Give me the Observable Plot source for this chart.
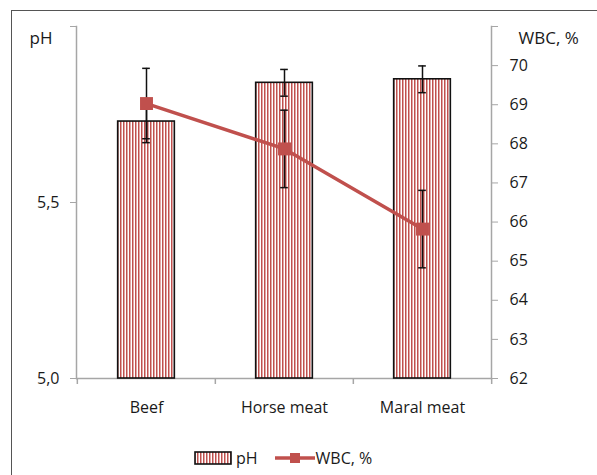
<!DOCTYPE html>
<html>
<head>
<meta charset="utf-8">
<script src="https://cdn.jsdelivr.net/npm/d3@7"></script>
<script src="https://cdn.jsdelivr.net/npm/@observablehq/plot@0.6"></script>
<style>
  html, body { margin: 0; padding: 0; background: #fff; }
  #wrap { position: relative; width: 597px; height: 475px; overflow: hidden; font-family: "Open Sans", sans-serif; color: #1a1a1a; }
  #border { position: absolute; left: 11px; top: 10px; width: 800px; height: 800px; border-left: 1.5px solid #555; border-top: 1.5px solid #555; }
  #legend { position: absolute; left: 194px; top: 447px; height: 22px; display: flex; align-items: center; font-size: 16px; }
  #legend span { line-height: 22px; }
</style>
</head>
<body>
<div id="wrap">
  <div id="border"></div>
  <div id="chart"></div>
  <div id="legend"></div>
</div>
<script>
// ---- data ----
const categories = ["Beef", "Horse meat", "Maral meat"];
const phValues = [5.73, 5.84, 5.85];
const phErrors = [0.06, 0.038, 0.038];
const wbcValues = [69.03, 67.87, 65.82];
const wbcErrors = [0.9, 0.99, 0.99];
const phTicks = [5.0, 5.5, 6.0];
const phTickLabels = ["5,0", "5,5", ""];
const wbcTicks = [62, 63, 64, 65, 66, 67, 68, 69, 70, 71];
const wbcTickLabels = ["62", "63", "64", "65", "66", "67", "68", "69", "70", ""];
const phTitle = "pH";
const wbcTitle = "WBC, %";

// ---- layout ----
const W = 597, H = 475;
const mL = 76, mR = 106, mT = 26, mB = 97;
const bw = (W - mL - mR) / categories.length;
const red = "#c0504d";
const axisGrey = "#a6a6a6";
const phMin = 5, phMax = 6, wbcMin = 62, wbcMax = 71;
const toPH = w => phMin + (w - wbcMin) * (phMax - phMin) / (wbcMax - wbcMin);
const pxToPH = px => px * (phMax - phMin) / (H - mT - mB);

const data = categories.map((c, i) => ({
  cat: c, ph: phValues[i], phErr: phErrors[i], wbc: wbcValues[i], wbcErr: wbcErrors[i]
}));
const wbcPos = wbcTicks.map(toPH);

const defsMark = () => {
  const defs = d3.create("svg:defs");
  const p = defs.append("pattern").attr("id", "stripes")
    .attr("patternUnits", "userSpaceOnUse").attr("width", 3).attr("height", 10);
  p.append("rect").attr("width", 3).attr("height", 10).attr("fill", "#fff");
  p.append("rect").attr("width", 1.5).attr("height", 10).attr("fill", red);
  return defs.node();
};

const barInset = (bw - 57) / 2;
const capInset = (bw - 8) / 2;

const chart = Plot.plot({
  width: W, height: H,
  marginLeft: mL, marginRight: mR, marginTop: mT, marginBottom: mB,
  style: { fontFamily: "Open Sans, sans-serif", fontSize: "16px", color: "#1a1a1a", background: "transparent" },
  x: { domain: categories, padding: 0 },
  y: { domain: [phMin, phMax] },
  marks: [
    defsMark,
    // axis lines
    Plot.frame({ anchor: "left", stroke: axisGrey, strokeWidth: 1.5 }),
    Plot.frame({ anchor: "right", stroke: axisGrey, strokeWidth: 1.5 }),
    Plot.ruleY([phMin], { stroke: axisGrey, strokeWidth: 1.5 }),
    Plot.ruleX(categories, { x: d => d, dx: -bw / 2, y1: phMin - pxToPH(6), y2: phMin, stroke: axisGrey, strokeWidth: 1.5 }),
    Plot.ruleX([categories[categories.length - 1]], { x: d => d, dx: bw / 2, y1: phMin - pxToPH(6), y2: phMin, stroke: axisGrey, strokeWidth: 1.5 }),
    Plot.axisY(phTicks, { anchor: "left", tickSize: 6, tickPadding: 11, stroke: axisGrey, fill: "#1a1a1a", fontSize: 16,
      tickFormat: d => phTickLabels[phTicks.indexOf(d)], label: null }),
    Plot.axisY(wbcPos, { anchor: "right", tickSize: 6, tickPadding: 12, stroke: axisGrey, fill: "#1a1a1a", fontSize: 16,
      tickFormat: d => wbcTickLabels[wbcPos.indexOf(d)], label: null }),
    Plot.axisX({ tickSize: 0, tickPadding: 23, fill: "#1a1a1a", fontSize: 16, label: null }),
    // bars
    Plot.barY(data, { x: "cat", y1: phMin, y2: "ph", fill: "url(#stripes)", stroke: "#111", strokeWidth: 1.6,
      insetLeft: barInset, insetRight: barInset }),
    // pH error bars
    Plot.ruleX(data, { x: "cat", y1: d => d.ph - d.phErr, y2: d => d.ph + d.phErr, stroke: "#111", strokeWidth: 1.5 }),
    Plot.tickY(data, { x: "cat", y: d => d.ph - d.phErr, stroke: "#111", strokeWidth: 1.5, insetLeft: capInset, insetRight: capInset }),
    Plot.tickY(data, { x: "cat", y: d => d.ph + d.phErr, stroke: "#111", strokeWidth: 1.5, insetLeft: capInset, insetRight: capInset }),
    // WBC line
    Plot.line(data, { x: "cat", y: d => toPH(d.wbc), stroke: red, strokeWidth: 3.5 }),
    // WBC error bars
    Plot.ruleX(data, { x: "cat", y1: d => toPH(d.wbc - d.wbcErr), y2: d => toPH(d.wbc + d.wbcErr), stroke: "#111", strokeWidth: 1.5 }),
    Plot.tickY(data, { x: "cat", y: d => toPH(d.wbc - d.wbcErr), stroke: "#111", strokeWidth: 1.5, insetLeft: capInset, insetRight: capInset }),
    Plot.tickY(data, { x: "cat", y: d => toPH(d.wbc + d.wbcErr), stroke: "#111", strokeWidth: 1.5, insetLeft: capInset, insetRight: capInset }),
    Plot.dot(data, { x: "cat", y: d => toPH(d.wbc), symbol: "square", r: 7.3, fill: red, stroke: null }),
    // axis titles
    Plot.text([phTitle], { frameAnchor: "top-left", dx: -47, dy: 5.5, textAnchor: "start", fontSize: 17, fill: "#1a1a1a", text: d => d }),
    Plot.text([wbcTitle], { frameAnchor: "top-right", dx: 27, dy: 5.5, textAnchor: "start", fontSize: 17, fill: "#1a1a1a", text: d => d })
  ]
});
document.getElementById("chart").appendChild(chart);

// legend
const legend = d3.select("#legend");
const s1 = legend.append("svg").attr("width", 39).attr("height", 14).style("margin-right", "3px");
const lp = s1.append("defs").append("pattern").attr("id", "stripesLegend")
  .attr("patternUnits", "userSpaceOnUse").attr("width", 3).attr("height", 10);
lp.append("rect").attr("width", 3).attr("height", 10).attr("fill", "#fff");
lp.append("rect").attr("width", 1.5).attr("height", 10).attr("fill", red);
s1.append("rect").attr("x", 1).attr("y", 1).attr("width", 36).attr("height", 12)
  .attr("fill", "url(#stripesLegend)").attr("stroke", "#111").attr("stroke-width", 1.6);
legend.append("span").text(phTitle).style("margin-right", "17px");
const s2 = legend.append("svg").attr("width", 40).attr("height", 14).style("margin-right", "1px");
s2.append("line").attr("x1", 0).attr("x2", 40).attr("y1", 7).attr("y2", 7).attr("stroke", red).attr("stroke-width", 3.5);
s2.append("rect").attr("x", 15).attr("y", 2).attr("width", 10).attr("height", 10).attr("fill", red);
legend.append("span").text(wbcTitle);
</script>
</body>
</html>
